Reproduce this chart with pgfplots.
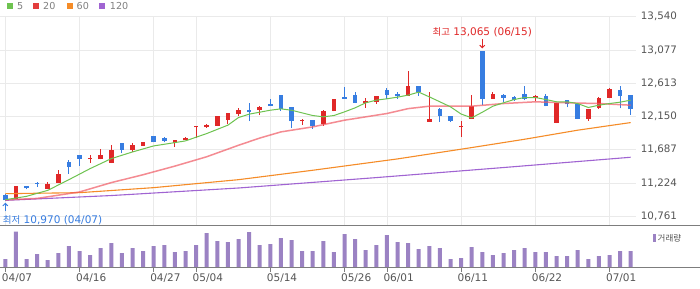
\documentclass[border=0pt]{standalone}
\usepackage{fontspec}
\setmainfont{DejaVu Sans}
\newfontfamily\kr{Noto Sans CJK KR}
\usepackage{pgfplots}
\pgfplotsset{compat=1.18}
\usepackage{pgfplotstable}
\usetikzlibrary{arrows.meta}

\definecolor{cUp}{RGB}{224,40,40}
\definecolor{cDown}{RGB}{55,125,225}
\definecolor{cMAfive}{RGB}{110,195,80}
\definecolor{cMAtwenty}{RGB}{240,90,100}
\definecolor{cMAsixty}{RGB}{245,140,40}
\definecolor{cMAhund}{RGB}{160,100,210}
\definecolor{cVol}{RGB}{155,130,195}
\definecolor{cGrid}{RGB}{234,234,234}
\definecolor{cText}{RGB}{85,85,85}
\definecolor{cLine}{RGB}{125,125,125}

% up candles (close >= open)
\pgfplotstableread{
i o h l c
1 11006 11180 11000 11178
4 11145 11235 11140 11210
5 11225 11400 11222 11355
8 11558 11611 11504 11578
9 11555 11694 11552 11611
10 11504 11750 11500 11680
12 11680 11783 11657 11750
13 11741 11795 11738 11792
16 11783 11825 11727 11820
17 11820 11862 11818 11848
18 12000 12017 11857 12018
19 12001 12053 11992 12039
20 12020 12158 12018 12155
21 12104 12200 12053 12197
22 12183 12262 12155 12238
24 12238 12299 12169 12280
28 12090 12118 12034 12108
30 12043 12243 12020 12229
31 12225 12395 12222 12392
34 12341 12406 12271 12369
35 12350 12436 12327 12434
38 12438 12782 12436 12573
40 12076 12494 12074 12110
43 12004 12085 11872 12024
44 12122 12448 12115 12294
46 12397 12494 12395 12462
50 12415 12452 12364 12434
52 12062 12345 12060 12341
55 12113 12257 12090 12253
56 12266 12420 12260 12415
57 12410 12550 12405 12527
}\upcandles

% down candles (close < open)
\pgfplotstableread{
i o h l c
0 11060 11065 10970 10985
2 11178 11182 11136 11150
3 11231 11232 11170 11212
6 11518 11540 11350 11448
7 11611 11615 11462 11560
11 11778 11780 11639 11685
14 11876 11878 11790 11792
15 11848 11862 11792 11811
23 12238 12336 12085 12211
25 12327 12392 12295 12299
26 12448 12450 12229 12252
27 12280 12282 11987 12085
29 12099 12100 11983 12015
32 12420 12559 12395 12397
33 12452 12490 12338 12341
36 12517 12545 12397 12452
37 12462 12490 12397 12438
39 12573 12575 12438 12490
41 12250 12266 12075 12159
42 12155 12157 12071 12088
45 13065 13065 12308 12392
47 12448 12462 12350 12410
48 12425 12434 12369 12387
49 12462 12573 12378 12401
51 12429 12462 12290 12294
53 12378 12382 12276 12318
54 12331 12335 12115 12118
58 12518 12573 12262 12438
59 12448 12450 12178 12248
}\downcandles

\pgfplotstableread{
i v
0 26
1 108
2 26
3 41
4 23
5 44
6 65
7 50
8 38
9 59
10 74
11 44
12 59
13 50
14 65
15 68
16 47
17 50
18 68
19 104
20 80
21 77
22 86
23 107
24 68
25 71
26 89
27 83
28 50
29 50
30 80
31 47
32 101
33 86
34 53
35 68
36 98
37 77
38 74
39 56
40 65
41 59
42 26
43 29
44 62
45 47
46 38
47 44
48 53
49 59
50 47
51 47
52 35
53 35
54 53
55 26
56 35
57 38
58 50
59 50
}\volume

\begin{document}
\begin{tikzpicture}
\useasboundingbox (0,0) rectangle (700bp,289bp);
\fill[white] (0,0) rectangle (700bp,289bp);

% ---------------- price panel ----------------
\begin{axis}[
  at={(0bp,63.5bp)}, anchor=south west,
  width=636bp, height=208.8bp, scale only axis,
  xmin=-0.5, xmax=59.5, ymin=10633, ymax=13540,
  clip=false,
  scaled y ticks=false,
  axis line style={draw=none},
  xtick={0,7,14,18,25,32,36,43,50,57},
  xticklabels={},
  xmajorgrids, ymajorgrids,
  grid style={cGrid, line width=0.8bp},
  major tick length=0pt,
  ytick={10761,11224.17,11687.33,12150.5,12613.67,13076.83,13540},
  yticklabels={{10,761},{11,224},{11,687},{12,150},{12,613},{13,077},{13,540}},
  yticklabel pos=right,
  yticklabel style={anchor=west, inner sep=0pt, xshift=4.7bp, text=cText,
    font=\fontsize{10.3bp}{12bp}\selectfont},
]
% wicks
\addplot[draw=none, mark=none, forget plot, error bars/.cd, y dir=plus, y explicit,
  error mark=none, error bar style={draw=cUp, line width=0.9bp, solid}]
  table[x=i, y=l, y error plus expr={\thisrow{h}-\thisrow{l}}] {\upcandles};
\addplot[draw=none, mark=none, forget plot, error bars/.cd, y dir=plus, y explicit,
  error mark=none, error bar style={draw=cDown, line width=0.9bp, solid}]
  table[x=i, y=l, y error plus expr={\thisrow{h}-\thisrow{l}}] {\downcandles};
% bodies
\addplot[draw=none, mark=none, forget plot, error bars/.cd, y dir=plus, y explicit,
  error mark=none, error bar style={draw=cUp, line width=4.6bp, solid}]
  table[x=i, y=o, y error plus expr={\thisrow{c}-\thisrow{o}}] {\upcandles};
\addplot[draw=none, mark=none, forget plot, error bars/.cd, y dir=plus, y explicit,
  error mark=none, error bar style={draw=cDown, line width=4.6bp, solid}]
  table[x=i, y=c, y error plus expr={\thisrow{o}-\thisrow{c}}] {\downcandles};

% moving averages
\addplot[cMAhund, line width=1.1bp, mark=none] coordinates {
(0,10983) (10,11050) (22,11155) (35,11300) (47,11440) (59,11583)};
\addplot[cMAsixty, line width=1.1bp, mark=none] coordinates {
(0,11076) (7,11090) (14,11160) (22,11271) (29,11402) (37,11560) (44,11718) (49,11834) (54,11960) (59,12066)};
\addplot[cMAtwenty, line width=1.5bp, opacity=0.7, mark=none] coordinates {
(0,10990) (3,11010) (7,11100) (10,11230) (13,11340) (16,11460) (19,11590) (22,11750) (24,11850) (26,11936) (29,12006) (32,12099) (36,12192) (38,12260) (40,12294) (44,12294) (47,12331) (50,12355) (53,12341) (56,12331) (59,12308)};
\addplot[cMAfive, line width=1bp, mark=none] coordinates {
(0,10992) (2,11039) (4,11122) (6,11271) (8,11425) (10,11564) (12,11657) (14,11741) (16,11787) (17,11811) (19,11913) (21,12030) (22,12136) (23,12183) (25,12238) (26,12257) (27,12238) (28,12201) (29,12164) (30,12146) (31,12164) (32,12215) (33,12271) (34,12341) (35,12378) (36,12397) (37,12420) (38,12448) (39,12490) (40,12424) (41,12355) (42,12285) (43,12185) (44,12132) (45,12210) (46,12294) (47,12341) (48,12387) (49,12415) (50,12415) (51,12387) (52,12355) (53,12355) (54,12331) (55,12276) (56,12308) (57,12331) (58,12350) (59,12378)};

% annotations
\draw[cUp, line width=0.9bp, -{Straight Barb[length=2.5bp,width=5bp]}]
  ([yshift=12bp]axis cs:45,13065) -- ([yshift=2.5bp]axis cs:45,13065);
\node[text=cUp, inner sep=0pt, font=\fontsize{10.5bp}{12bp}\selectfont]
  at ([yshift=18.5bp]axis cs:45,13065) {{\kr\fontsize{9.5bp}{12bp}\selectfont 최고} 13,065 (06/15)};
\draw[cDown, line width=0.9bp, -{Straight Barb[length=2.5bp,width=5bp]}]
  ([yshift=-10bp]axis cs:0,10970) -- ([yshift=-1.5bp]axis cs:0,10970);
\node[text=cDown, inner sep=0pt, anchor=west, font=\fontsize{10.5bp}{12bp}\selectfont]
  at ([xshift=-2.6bp,yshift=-18.7bp]axis cs:0,10970) {{\kr\fontsize{9.5bp}{12bp}\selectfont 최저} 10,970 (04/07)};
\end{axis}

% ---------------- volume panel ----------------
\begin{axis}[
  at={(0bp,21.3bp)}, anchor=south west,
  width=636bp, height=41.7bp, scale only axis,
  xmin=-0.5, xmax=59.5, ymin=0, ymax=125,
  axis line style={draw=none},
  ytick=\empty,
  xtick={0,7,14,18,25,32,36,43,50,57},
  xticklabels={04/07,04/16,04/27,05/04,05/14,05/26,06/01,06/11,06/22,07/01},
  tick align=outside,
  xtick pos=bottom,
  major tick length=4bp,
  tick style={draw=cLine, line width=0.8bp},
  xticklabel style={anchor=north west, inner sep=0pt, xshift=-3.6bp, yshift=-1.5bp, text=cText,
    font=\fontsize{10.5bp}{12bp}\selectfont},
]
\addplot[ybar, bar width=4bp, fill=cVol, draw=none] table[x=i, y=v] {\volume};
\end{axis}

% panel lines
\draw[cLine, line width=1.2bp] (0,63.5bp) -- (700bp,63.5bp);
\draw[cLine, line width=1bp] (0,21.3bp) -- (700bp,21.3bp);

% volume legend
\fill[cVol] (652.7bp,47.3bp) rectangle (656bp,54.7bp);
\node[anchor=west, inner sep=0pt, text=cText] at (657.5bp,51bp) {\kr\fontsize{8.5bp}{10bp}\selectfont 거래량};

% MA legend
\begin{scope}[font=\fontsize{9.6bp}{10bp}\selectfont]
\fill[cMAfive] (7.3bp,280.3bp) rectangle (13.3bp,286.3bp);
\node[anchor=west, inner sep=0pt, text=gray] at (17bp,283.3bp) {5};
\fill[cUp!90!white] (33.3bp,280.3bp) rectangle (39.3bp,286.3bp);
\node[anchor=west, inner sep=0pt, text=gray] at (43bp,283.3bp) {20};
\fill[cMAsixty] (66.7bp,280.3bp) rectangle (72.7bp,286.3bp);
\node[anchor=west, inner sep=0pt, text=gray] at (76.5bp,283.3bp) {60};
\fill[cMAhund] (99.3bp,280.3bp) rectangle (105.3bp,286.3bp);
\node[anchor=west, inner sep=0pt, text=gray] at (109.7bp,283.3bp) {120};
\end{scope}
\end{tikzpicture}
\end{document}
